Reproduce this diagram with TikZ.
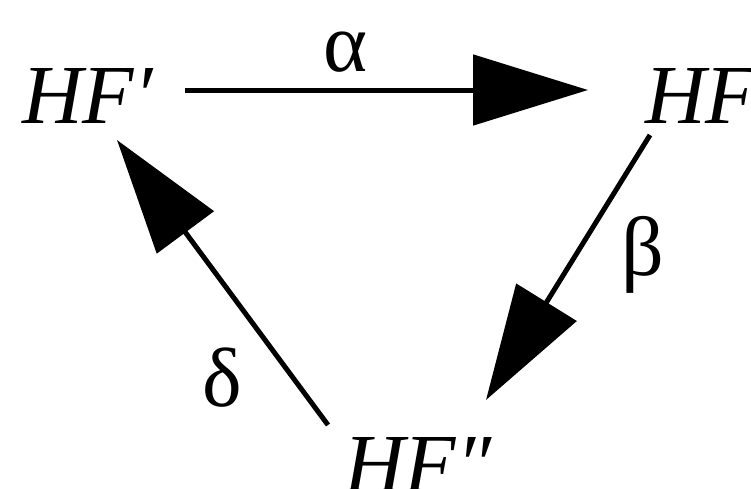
\documentclass[tikz,border=0pt]{standalone}
\usepackage{fontspec}
\setmainfont{Liberation Serif}
\usetikzlibrary{arrows.meta}
\begin{document}
\begin{tikzpicture}[x=1pt,y=-1pt,
  obj/.style={inner sep=0pt,anchor=base west,font=\fontsize{84}{90}\selectfont\itshape},
  lbl/.style={inner sep=0pt,font=\fontsize{84}{90}\selectfont},
  arr/.style={line width=5pt,-{Triangle[length=115pt,width=70pt]}}]
\useasboundingbox (0,0) rectangle (751,488);
\node[obj] (hfp) at (22,123) {HF′};
\node[obj] (hf) at (645,123) {HF};
\node[obj] (hfpp) at (344,492) {HF″};
\draw[arr] ([shift={(163,-33)}]hfp.base west) -- ([shift={(-57,-33)}]hf.base west);
\draw[arr] ([shift={(5,12)}]hf.base west) -- ([shift={(142,-92)}]hfpp.base west);
\draw[arr] ([shift={(-16,-67)}]hfpp.base west) -- ([shift={(95,17)}]hfp.base west);
\node[lbl] (alpha) at (345,52) {α};
\node[lbl] (beta) at (643,255) {β};
\node[lbl] (delta) at (222,378) {δ};
\end{tikzpicture}
\end{document}
